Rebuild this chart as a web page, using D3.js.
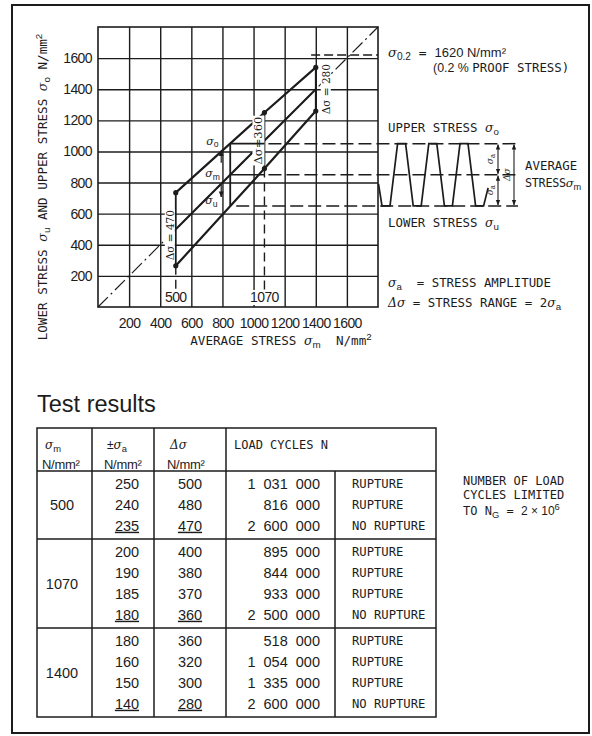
<!DOCTYPE html>
<html>
<head>
<meta charset="utf-8">
<script src="https://cdn.jsdelivr.net/npm/d3@7"></script>
<style>
  body { margin: 0; background: #fff; }
  svg { display: block; }
</style>
</head>
<body>
<div id="chart"></div>
<script>
// ---- data ----
const axisTicks = [200, 400, 600, 800, 1000, 1200, 1400, 1600];
const meanStress = [500, 1070, 1400];
const upperStress = [735, 1250, 1540];
const lowerStress = [265, 890, 1260];
const rangeLabels = ["Δσ = 470", "Δσ=360", "Δσ = 280"];
const proofStress = 1620;
// the sketched example cycle used for the sine-like diagram
const exampleMean = 850, exampleUpper = 1050, exampleLower = 650;

// test results table
const tableMeans = ["500", "1070", "1400"];
const tableAmplitudes = [[250, 240, 235], [200, 190, 185, 180], [180, 160, 150, 140]];
const tableRanges = [[500, 480, 470], [400, 380, 370, 360], [360, 320, 300, 280]];
const tableCycles = [
  ["1 031 000", "816 000", "2 600 000"],
  ["895 000", "844 000", "933 000", "2 500 000"],
  ["518 000", "1 054 000", "1 335 000", "2 600 000"]
];
const tableOutcomes = [
  ["RUPTURE", "RUPTURE", "NO RUPTURE"],
  ["RUPTURE", "RUPTURE", "RUPTURE", "NO RUPTURE"],
  ["RUPTURE", "RUPTURE", "RUPTURE", "NO RUPTURE"]
];

const width = 592, height = 736;
const ink = "#1c1c1c";
const mono = "'DejaVu Sans Mono', monospace";
const sans = "'Liberation Sans', Arial, sans-serif";
const serif = "'DejaVu Serif', serif";

let svg = d3.select('#chart')
            .append('svg')
            .attr('width', width)
            .attr('height', height)
            .style('background', '#fff');

// outer frame
svg.append('rect')
    .attr('x', 12).attr('y', 5)
    .attr('width', 577).attr('height', 728)
    .attr('fill', 'none').attr('stroke', ink).attr('stroke-width', 2);

// mixed font text helper: parts = [[string, kind]]
function rich(parent, parts, size) {
  const t = parent.append('text')
      .attr('font-size', size)
      .attr('fill', ink)
      .style('white-space', 'pre');
  let shift = 0;
  parts.forEach(p => {
    const str = p[0], kind = p[1] || 'mono';
    const ts = t.append('tspan').text(str);
    let target = 0;
    if (kind === 'sub') target = size * 0.25;
    if (kind === 'sup') target = -size * 0.38;
    if (target - shift !== 0) ts.attr('dy', target - shift);
    shift = target;
    let fam = mono;
    if (kind === 'sig') fam = serif;
    if (kind === 'sans' || kind === 'sub' || kind === 'sup') fam = sans;
    ts.attr('font-family', fam);
    if (kind === 'sig') ts.attr('font-style', 'italic');
    if (kind === 'sub' || kind === 'sup') ts.attr('font-size', size * 0.78);
  });
  return t;
}

// ---- scales ----
const x = d3.scaleLinear().domain([0, 1800]).range([98, 378]);
const y = d3.scaleLinear().domain([0, 1800]).range([307, 27]);
const plotW = x(1800) - x(0), plotH = y(0) - y(1800);

// grid via axes
let yAxis = svg.append('g')
    .attr('transform', `translate(${x(0)},0)`)
    .call(d3.axisLeft(y).tickValues(axisTicks).tickFormat(d3.format('d'))
            .tickSize(-plotW).tickPadding(6));
let xAxis = svg.append('g')
    .attr('transform', `translate(0,${y(0)})`)
    .call(d3.axisBottom(x).tickValues(axisTicks).tickFormat(d3.format('d'))
            .tickSize(-plotH).tickPadding(11));
[xAxis, yAxis].forEach(a => {
  a.select('.domain').remove();
  a.selectAll('line').attr('stroke', ink).attr('stroke-width', 1.4);
  a.selectAll('text')
    .attr('fill', ink)
    .attr('font-family', sans)
    .attr('font-size', 14)
    .attr('letter-spacing', -0.6);
});

svg.append('rect')
    .attr('x', x(0)).attr('y', y(1800))
    .attr('width', plotW).attr('height', plotH)
    .attr('fill', 'none').attr('stroke', ink).attr('stroke-width', 1.6);

// axis titles
let ylab = svg.append('g').attr('transform', `translate(47,187) rotate(-90)`);
rich(ylab, [["LOWER STRESS "], ["σ", 'sig'], ["u", 'sub'], [" AND UPPER STRESS "], ["σ", 'sig'], ["o", 'sub'], [" N/mm"], ["2", 'sup']], 12.6)
    .attr('text-anchor', 'middle');
rich(svg, [["AVERAGE STRESS "], ["σ", 'sig'], ["m", 'sub'], ["  N/mm"], ["2", 'sup']], 12.6)
    .attr('x', 281).attr('y', 345).attr('text-anchor', 'middle');

// diagonal sigma_m line (dash-dot) and solid part
svg.append('line')
    .attr('x1', x(0)).attr('y1', y(0)).attr('x2', x(1800)).attr('y2', y(1800))
    .attr('stroke', ink).attr('stroke-width', 1.2)
    .attr('stroke-dasharray', '14,4,2,4');
svg.append('line')
    .attr('x1', x(meanStress[0])).attr('y1', y(meanStress[0]))
    .attr('x2', x(meanStress[2])).attr('y2', y(meanStress[2]))
    .attr('stroke', ink).attr('stroke-width', 2);

// proof stress dashed line
svg.append('line')
    .attr('x1', x(1370)).attr('x2', x(1800))
    .attr('y1', y(proofStress)).attr('y2', y(proofStress))
    .attr('stroke', ink).attr('stroke-width', 1.3)
    .attr('stroke-dasharray', '9,4');

// upper and lower envelope lines
const envLine = d3.line().x(d => x(d[0])).y(d => y(d[1]));
[upperStress, lowerStress].forEach(vals => {
  svg.append('path')
      .datum(meanStress.map((m, i) => [m, vals[i]]))
      .attr('fill', 'none')
      .attr('stroke', ink)
      .attr('stroke-width', 2.2)
      .attr('d', envLine);
});

// vertical range lines and dashed droplines
meanStress.forEach((m, i) => {
  svg.append('line')
      .attr('x1', x(m)).attr('x2', x(m))
      .attr('y1', y(upperStress[i])).attr('y2', y(lowerStress[i]))
      .attr('stroke', ink).attr('stroke-width', 1.8);
  if (i < 2) {
    svg.append('line')
        .attr('x1', x(m)).attr('x2', x(m))
        .attr('y1', y(lowerStress[i])).attr('y2', y(100))
        .attr('stroke', ink).attr('stroke-width', 1.4)
        .attr('stroke-dasharray', '9,5');
    svg.append('rect')
        .attr('x', x(m) - (i === 0 ? 12 : 15)).attr('y', y(0) - 17)
        .attr('width', i === 0 ? 24 : 30).attr('height', 15)
        .attr('fill', '#fff');
    svg.append('text')
        .attr('x', x(m)).attr('y', y(0) - 5)
        .attr('text-anchor', 'middle')
        .attr('font-family', sans).attr('font-size', 14)
        .attr('letter-spacing', -0.6)
        .attr('fill', ink)
        .text(meanStress[i]);
  }
  // points
  [upperStress[i], lowerStress[i]].forEach(v => {
    svg.append('circle')
        .attr('cx', x(m)).attr('cy', y(v)).attr('r', 2.6)
        .attr('fill', ink);
  });
  // range labels with white background
  const mid = y((upperStress[i] + lowerStress[i]) / 2);
  const lx = i === 2 ? x(m) + 14 : x(m) - 2;
  const fs = i === 1 ? 11.5 : 10.5;
  const g = svg.append('g').attr('transform', `translate(${lx},${mid + (i === 0 ? 6 : 0)}) rotate(-90)`);
  const lbl = g.append('text')
      .attr('text-anchor', 'middle')
      .attr('font-family', serif).attr('font-size', fs)
      .attr('fill', ink)
      .text(rangeLabels[i]);
  const bb = lbl.node().getBBox();
  g.insert('rect', 'text')
      .attr('x', bb.x - 1).attr('y', bb.y + 1)
      .attr('width', bb.width + 2).attr('height', bb.height - 2)
      .attr('fill', '#fff');
});

// example cycle marking
const exX = x(exampleMean);
svg.append('line')
    .attr('x1', exX).attr('x2', exX)
    .attr('y1', y(exampleUpper)).attr('y2', y(exampleLower))
    .attr('stroke', ink).attr('stroke-width', 1.8);
const waveRight = 518;
[exampleUpper, exampleMean].forEach(v => {
  svg.append('line')
      .attr('x1', exX).attr('x2', x(1070))
      .attr('y1', y(v)).attr('y2', y(v))
      .attr('stroke', ink).attr('stroke-width', 1.6);
  svg.append('line')
      .attr('x1', x(1070) + 4).attr('x2', waveRight)
      .attr('y1', y(v)).attr('y2', y(v))
      .attr('stroke', ink).attr('stroke-width', 1.5)
      .attr('stroke-dasharray', '13,5');
});
svg.append('line')
    .attr('x1', exX + 6).attr('x2', waveRight)
    .attr('y1', y(exampleLower)).attr('y2', y(exampleLower))
    .attr('stroke', ink).attr('stroke-width', 1.5)
    .attr('stroke-dasharray', '13,5');

// small arrows at sigma_o / sigma_u
svg.append('defs').html(
  '<marker id="ah" viewBox="0 0 10 10" refX="9" refY="5" markerWidth="5" markerHeight="5" orient="auto-start-reverse">' +
  '<path d="M0,1 L10,5 L0,9 z" fill="' + ink + '"/></marker>');
const arX = x(exampleMean) - 9;
svg.append('line')
    .attr('x1', arX).attr('x2', arX)
    .attr('y1', y(exampleMean) - 12).attr('y2', y(exampleUpper) + 7)
    .attr('stroke', ink).attr('stroke-width', 1.2).attr('marker-end', 'url(#ah)');
svg.append('line')
    .attr('x1', arX).attr('x2', arX)
    .attr('y1', y(exampleMean) + 10).attr('y2', y(exampleLower) - 9)
    .attr('stroke', ink).attr('stroke-width', 1.2).attr('marker-end', 'url(#ah)');

rich(svg, [["σ", 'sig'], ["o", 'sub']], 11).attr('x', exX - 24).attr('y', y(exampleUpper) + 1);
rich(svg, [["σ", 'sig'], ["m", 'sub']], 11).attr('x', exX - 25).attr('y', y(exampleMean) + 2);
rich(svg, [["σ", 'sig'], ["u", 'sub']], 11).attr('x', exX - 25).attr('y', y(exampleLower) - 2);

// wave sketch
const yo = y(exampleUpper), yu = y(exampleLower);
const flat = 8, ramp = 7.6, period = 2 * (flat + ramp);
let wavePts = [[378.5, yu - 22], [382, yu]];
let wx = 382;
for (let k = 0; k < 4; k++) {
  wavePts.push([wx + flat, yu]);
  if (k === 3) { wavePts.push([wx + flat + 4.5, yu - 18]); break; }
  wavePts.push([wx + flat + ramp, yo]);
  wavePts.push([wx + 2 * flat + ramp, yo]);
  wavePts.push([wx + period, yu]);
  wx += period;
}
svg.append('path')
    .attr('d', d3.line()(wavePts))
    .attr('fill', 'none').attr('stroke', ink).attr('stroke-width', 1.7);

// amplitude / range arrows
const ym = y(exampleMean);
[[yo, ym], [ym, yu]].forEach(seg => {
  svg.append('line')
      .attr('x1', 498).attr('x2', 498)
      .attr('y1', seg[0] + 1).attr('y2', seg[1] - 1)
      .attr('stroke', ink).attr('stroke-width', 1.1)
      .attr('marker-start', 'url(#ah)').attr('marker-end', 'url(#ah)');
});
svg.append('line')
    .attr('x1', 514).attr('x2', 514)
    .attr('y1', yo + 1).attr('y2', yu - 1)
    .attr('stroke', ink).attr('stroke-width', 1.1)
    .attr('marker-start', 'url(#ah)').attr('marker-end', 'url(#ah)');
[[493, (yo + ym) / 2, [["σ", 'sig'], ["a", 'sub']]],
 [493, (ym + yu) / 2, [["σ", 'sig'], ["a", 'sub']]],
 [510, ym, [["Δσ", 'sig']]]].forEach(d => {
  const g = svg.append('g').attr('transform', `translate(${d[0]},${d[1]}) rotate(-90)`);
  rich(g, d[2], 9).attr('text-anchor', 'middle');
});

// right-hand annotations
rich(svg, [["σ", 'sig'], ["0.2", 'sub'], [" = "], ["1620 N/mm²", 'sans']], 13).attr('x', 388).attr('y', 57);
rich(svg, [["(0.2 % ", 'sans'], ["PROOF STRESS)"]], 12.4).attr('x', 433).attr('y', 72);
rich(svg, [["UPPER STRESS "], ["σ", 'sig'], ["o", 'sub']], 12.4).attr('x', 388).attr('y', 132);
rich(svg, [["AVERAGE"]], 12.4).attr('x', 525).attr('y', 170);
rich(svg, [["STRESS"], ["σ", 'sig'], ["m", 'sub']], 11.8).attr('x', 525).attr('y', 187).attr('letter-spacing', -0.3);
rich(svg, [["LOWER STRESS "], ["σ", 'sig'], ["u", 'sub']], 12.4).attr('x', 388).attr('y', 227);
rich(svg, [["σ", 'sig'], ["a", 'sub'], ["  = STRESS AMPLITUDE"]], 12.4).attr('x', 388).attr('y', 287);
rich(svg, [["Δσ", 'sig'], [" = STRESS RANGE = 2"], ["σ", 'sig'], ["a", 'sub']], 12.4).attr('x', 388).attr('y', 307);

// ---- test results table ----
svg.append('text')
    .attr('x', 37).attr('y', 412)
    .attr('font-family', sans).attr('font-size', 23.5)
    .attr('fill', ink)
    .text('Test results');

const cols = [37, 92, 154, 226, 335, 436];
const tTop = 428, headBottom = 471;
const rowH = 21, padTop = 2, padBottom = 3;

let bounds = [headBottom];
tableAmplitudes.forEach(g => bounds.push(bounds[bounds.length - 1] + padTop + g.length * rowH + padBottom));
const tBottom = bounds[bounds.length - 1];

const tg = svg.append('g').attr('stroke', ink).attr('stroke-width', 1.5);
tg.append('rect').attr('x', cols[0]).attr('y', tTop)
    .attr('width', cols[5] - cols[0]).attr('height', tBottom - tTop).attr('fill', 'none');
[1, 2, 3].forEach(c => tg.append('line').attr('x1', cols[c]).attr('x2', cols[c]).attr('y1', tTop).attr('y2', tBottom));
tg.append('line').attr('x1', cols[4]).attr('x2', cols[4]).attr('y1', headBottom).attr('y2', tBottom);
bounds.slice(0, -1).forEach(b => tg.append('line').attr('x1', cols[0]).attr('x2', cols[5]).attr('y1', b).attr('y2', b));

// header
rich(svg, [["σ", 'sig'], ["m", 'sub']], 12).attr('x', 45).attr('y', 449);
rich(svg, [["±", 'sans'], ["σ", 'sig'], ["a", 'sub']], 12).attr('x', 107).attr('y', 449);
rich(svg, [["Δσ", 'sig']], 12).attr('x', 170).attr('y', 449);
[45, 107, 170].forEach(hx => {
  svg.append('text').attr('x', hx - 3).attr('y', 469)
      .attr('font-family', sans).attr('font-size', 13).attr('letter-spacing', -0.3)
      .attr('fill', ink).text('N/mm²');
});
rich(svg, [["LOAD CYCLES N"]], 12).attr('x', 234).attr('y', 449);

// body
const numStyle = t => t.attr('font-family', sans).attr('font-size', 14.5).attr('fill', ink);
tableAmplitudes.forEach((amps, gi) => {
  const gTop = bounds[gi];
  const gBot = bounds[gi + 1];
  numStyle(svg.append('text'))
      .attr('x', 62).attr('y', (gTop + gBot) / 2).attr('dy', '0.36em')
      .attr('text-anchor', 'middle').text(tableMeans[gi]);
  amps.forEach((a, ri) => {
    const cy = gTop + padTop + ri * rowH + rowH / 2;
    const last = ri === amps.length - 1;
    const ta = numStyle(svg.append('text')).attr('x', 127).attr('y', cy).attr('dy', '0.36em')
        .attr('text-anchor', 'middle').text(a);
    const tr = numStyle(svg.append('text')).attr('x', 190).attr('y', cy).attr('dy', '0.36em')
        .attr('text-anchor', 'middle').text(tableRanges[gi][ri]);
    if (last) { ta.attr('text-decoration', 'underline'); tr.attr('text-decoration', 'underline'); }
    numStyle(svg.append('text')).attr('x', 320).attr('y', cy).attr('dy', '0.36em')
        .attr('text-anchor', 'end').text(tableCycles[gi][ri].replace(/ /g, '\u2007'));
    svg.append('text').attr('x', 352).attr('y', cy).attr('dy', '0.36em')
        .attr('font-family', mono).attr('font-size', 12.2).attr('fill', ink)
        .text(tableOutcomes[gi][ri]);
  });
});

// note on the right
rich(svg, [["NUMBER OF LOAD"]], 12).attr('x', 463).attr('y', 485);
rich(svg, [["CYCLES LIMITED"]], 12).attr('x', 463).attr('y', 499);
rich(svg, [["TO N"], ["G", 'sub'], [" = ", 'mono'], ["2 × 10", 'sans'], ["6", 'sup']], 12).attr('x', 463).attr('y', 515);
</script>
</body>
</html>
